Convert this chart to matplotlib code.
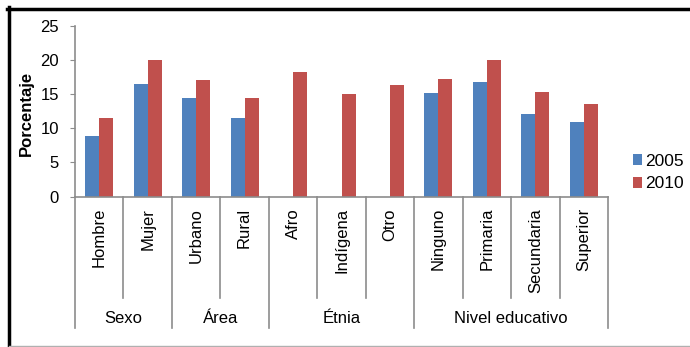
import matplotlib.pyplot as plt
from matplotlib.lines import Line2D
import numpy as np

plt.rcParams['font.family'] = ['Liberation Sans', 'DejaVu Sans']

categories = ['Hombre', 'Mujer', 'Urbano', 'Rural', 'Afro', 'Indígena', 'Otro',
              'Ninguno', 'Primaria', 'Secundaria', 'Superior']
groups = ['Sexo', 'Área', 'Étnia', 'Nivel educativo']
group_sizes = [2, 2, 3, 4]

# nan = no data for 2005
vals_2005 = [8.8, 16.5, 14.4, 11.5, np.nan, np.nan, np.nan, 15.2, 16.8, 12.1, 10.9]
vals_2010 = [11.5, 20.0, 17.1, 14.4, 18.2, 15.0, 16.3, 17.2, 20.0, 15.3, 13.6]

blue = '#4F81BD'
red = '#C0504D'
grey = '#8C8C8C'

W, H = 690, 347
fig = plt.figure(figsize=(6.9, 3.47), dpi=100)

left, right, bottom, top = 75, 608, 196.5, 26
ax = fig.add_axes([left / W, 1 - bottom / H, (right - left) / W, (bottom - top) / H])

x = np.arange(len(categories))
w = 0.29
ax.bar(x - w / 2, vals_2005, w, color=blue, label='2005')
ax.bar(x + w / 2, vals_2010, w, color=red, label='2010')

ax.set_xlim(-0.5, len(categories) - 0.5)
ax.set_ylim(0, 25)
ax.set_yticks(range(0, 26, 5))
ax.tick_params(axis='y', labelsize=12, length=3.5, color=grey, pad=8)
ax.set_xticks([])
for s in ['top', 'right']:
    ax.spines[s].set_visible(False)
ax.spines['left'].set_color(grey)
ax.spines['bottom'].set_color(grey)
ax.spines['left'].set_linewidth(1.2)
ax.spines['bottom'].set_linewidth(1.2)

ax.set_ylabel('Porcentaje', fontsize=12, fontweight='bold')
ax.yaxis.set_label_coords(-0.078, 0.49)

# category labels and separators below the axis
ah = bottom - top
trans = ax.get_xaxis_transform()
for i, c in enumerate(categories):
    ax.text(i, -11.5 / ah, c, rotation=90, ha='center', va='top', fontsize=12, transform=trans)

group_edges = np.cumsum([0] + group_sizes)
for b in range(len(categories) + 1):
    end = 328 if b in group_edges else 298
    ax.add_line(Line2D([b - 0.5, b - 0.5], [0, -(end - bottom) / ah], transform=trans,
                       color=grey, lw=1.2, clip_on=False))

for g, s, e in zip(groups, group_edges[:-1], group_edges[1:]):
    ax.text((s + e - 1) / 2, -(318 - bottom) / ah, g, ha='center', va='center',
            fontsize=12, transform=trans)

ax.legend(loc='upper left', bbox_to_anchor=(624 / W, 1 - 145 / H), bbox_transform=fig.transFigure,
          frameon=False, fontsize=12.5, handlelength=0.55, handleheight=0.55,
          handletextpad=0.15, labelspacing=0.45, borderpad=0)

# outer frame: black left/top, thin grey bottom
fig.add_artist(Line2D([8.5 / W, 8.5 / W], [0, 1 - 7 / H], color='black', lw=2.5))
fig.add_artist(Line2D([7 / W, 1], [1 - 8.5 / H, 1 - 8.5 / H], color='black', lw=2.5))
fig.add_artist(Line2D([8.5 / W, 1], [1.5 / H, 1.5 / H], color='#B0B0B0', lw=1))

fig.savefig('out.png', dpi=100)
